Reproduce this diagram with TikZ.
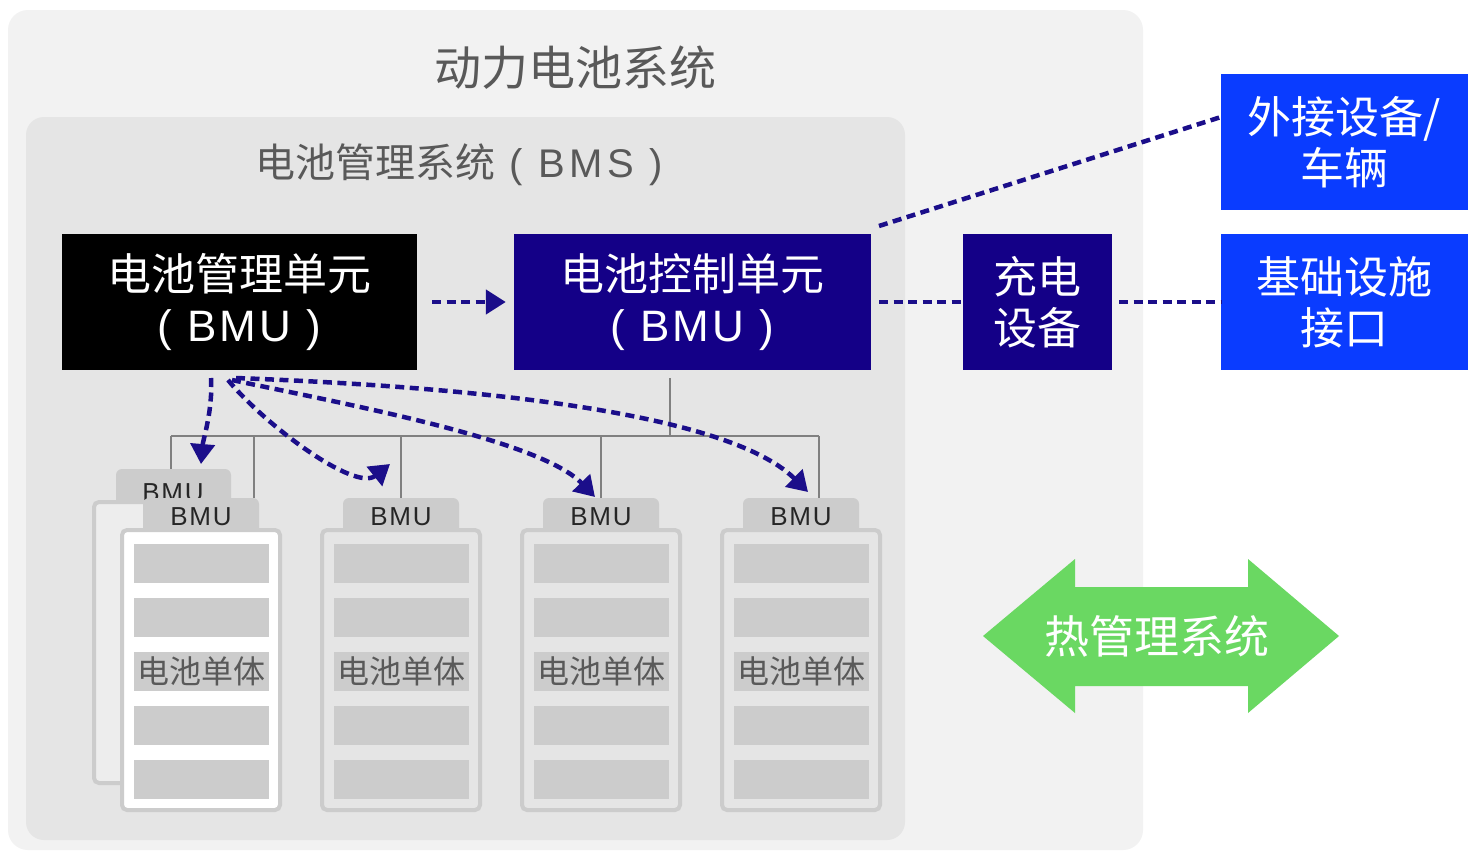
\documentclass[tikz,border=0pt]{standalone}
\usepackage{fontspec}
\newfontfamily\cjk{Noto Sans CJK SC}
\newfontfamily\lat{Liberation Sans}[LetterSpace=7]
\newfontfamily\latwide{Liberation Sans}[LetterSpace=11]
\usetikzlibrary{arrows.meta}
\definecolor{outerbg}{HTML}{F2F2F2}
\definecolor{innerbg}{HTML}{E5E5E5}
\definecolor{titlegray}{HTML}{595959}
\definecolor{indigo}{HTML}{140087}
\definecolor{brightblue}{HTML}{0A3CFF}
\definecolor{dashc}{HTML}{1B0E8A}
\definecolor{cellc}{HTML}{CCCCCC}
\definecolor{backc}{HTML}{EDEDED}
\definecolor{busc}{HTML}{808080}
\definecolor{thermal}{HTML}{6AD862}
\begin{document}
\begin{tikzpicture}[x=1pt,y=-1pt,
  unitbox/.style={minimum width=#1,minimum height=136pt,inner sep=0pt,align=center,text=white,font=\cjk\fontsize{44}{51}\selectfont},
  heading/.style={text=titlegray,inner sep=0pt,font=\cjk\fontsize{#1}{#1}\selectfont},
  conn/.style={draw=dashc,line width=4.5pt,dash pattern=on 9pt off 5.5pt},
  dasharrow/.style={conn,-{Triangle[length=20pt,width=24pt]}},
  bus/.style={draw=busc,line width=1.3pt},
  tabtext/.style={text=black!85,inner sep=0pt,font=\lat\fontsize{26}{26}\selectfont},
  frame/.style={draw=cellc,line width=4pt,rounded corners=5pt,minimum width=158pt,minimum height=280pt,inner sep=0pt},
  cell/.style={fill=cellc,minimum width=135pt,minimum height=39pt,inner sep=0pt},
  celltext/.style={text=titlegray,inner sep=0pt,font=\cjk\fontsize{32}{32}\selectfont},
  thermtext/.style={text=white,inner sep=0pt,font=\cjk\fontsize{45}{45}\selectfont},
]
\useasboundingbox (0,0) rectangle (1468,857);
\fill[white] (0,0) rectangle (1468,857);
% outer system
\fill[outerbg, rounded corners=20pt] (8,10) rectangle (1143,850);
\node[heading=47] (title) at (575,68) {动力电池系统};
% BMS
\fill[innerbg, rounded corners=18pt] (26,117) rectangle (905,840);
\node[heading=40] (bmstitle) at (459,165) {电池管理系统\hspace{14pt}{\latwide( BMS )}};
% unit boxes
\node[unitbox=355pt, fill=black] (bmu) at (239.5,302) {电池管理单元\\{\lat( BMU )}};
\node[unitbox=357pt, fill=indigo] (ctrl) at (692.5,302) {电池控制单元\\{\lat( BMU )}};
\node[unitbox=149pt, fill=indigo] (chg) at (1037.5,302) {充电\\设备};
\node[unitbox=247pt, fill=brightblue] (ext) at (1344.5,142) {外接设备/\\车辆};
\node[unitbox=247pt, fill=brightblue] (inf) at (1344.5,302) {基础设施\\接口};
% connectors between boxes
\draw[dasharrow, shorten <=15pt, shorten >=8pt] (bmu) -- (ctrl);
\draw[conn, shorten <=8pt] (ctrl) -- (chg);
\draw[conn, shorten <=7pt] (chg) -- (inf);
\coordinate (dstart) at (879,226);
\coordinate (dend) at (1221,117);
\draw[conn] (dstart) -- (dend);
% bus lines
\coordinate (busTop) at (670,378);
\coordinate (busMid) at (670,436);
\coordinate (busL) at (171,436);
\coordinate (busR) at (819,436);
\draw[bus] (busTop) -- (busMid);
\draw[bus] (busL) -- (busR);
\foreach \i/\bx/\by in {1/171/469,2/254/498,3/401/498,4/601/498,5/819/498}{
  \coordinate (bt\i) at (\bx,436);
  \coordinate (bd\i) at (\bx,\by);
  \draw[bus] (bt\i) -- (bd\i);
}
% back stack
\fill[cellc, rounded corners=6pt] (116,515) rectangle (231,469);
\node[tabtext] (backtabtxt) at (173,493) {BMU};
\node[frame, fill=backc, minimum height=281pt] (backframe) at (173,642.5) {};
% front stacks
\foreach \k/\cx/\fc in {1/201/white,2/401/innerbg,3/601/innerbg,4/801/innerbg}{
  \fill[cellc, rounded corners=6pt] (\cx-58,540) rectangle (\cx+58,498);
  \node[tabtext] (tab\k) at (\cx,517) {BMU};
  \node[frame, fill=\fc] (frame\k) at (\cx,670) {};
  \foreach \j/\cy in {1/563,2/617,3/671,4/725,5/779}{
    \node[cell] (cell\k\j) at (\cx,\cy) {};
  }
  \node[celltext] (celltxt\k) at (\cx,671) {电池单体};
}
% curved arrows from BMU
\coordinate (s1) at (211,378);
\coordinate (s2) at (228,380);
\coordinate (s3) at (232,380);
\coordinate (s4) at (236,378);
\coordinate (e1) at (201,464);
\coordinate (e2) at (390,464);
\coordinate (e3) at (595,497);
\coordinate (e4) at (808,492);
\draw[dasharrow] (s1) .. controls (213,410) and (203,440) .. (e1);
\draw[dasharrow] (s2) .. controls (265,425) and (355,492) .. (e2);
\draw[dasharrow] (s3) .. controls (350,405) and (540,440) .. (e3);
\draw[dasharrow] (s4) .. controls (420,385) and (720,405) .. (e4);
% thermal management
\fill[thermal] (983,636) -- (1075,559) -- (1075,587) -- (1248,587) -- (1248,559) -- (1339,636) -- (1248,713) -- (1248,686) -- (1075,686) -- (1075,713) -- cycle;
\node[thermtext] (thermo) at (1157,636) {热管理系统};
\end{tikzpicture}
\end{document}
